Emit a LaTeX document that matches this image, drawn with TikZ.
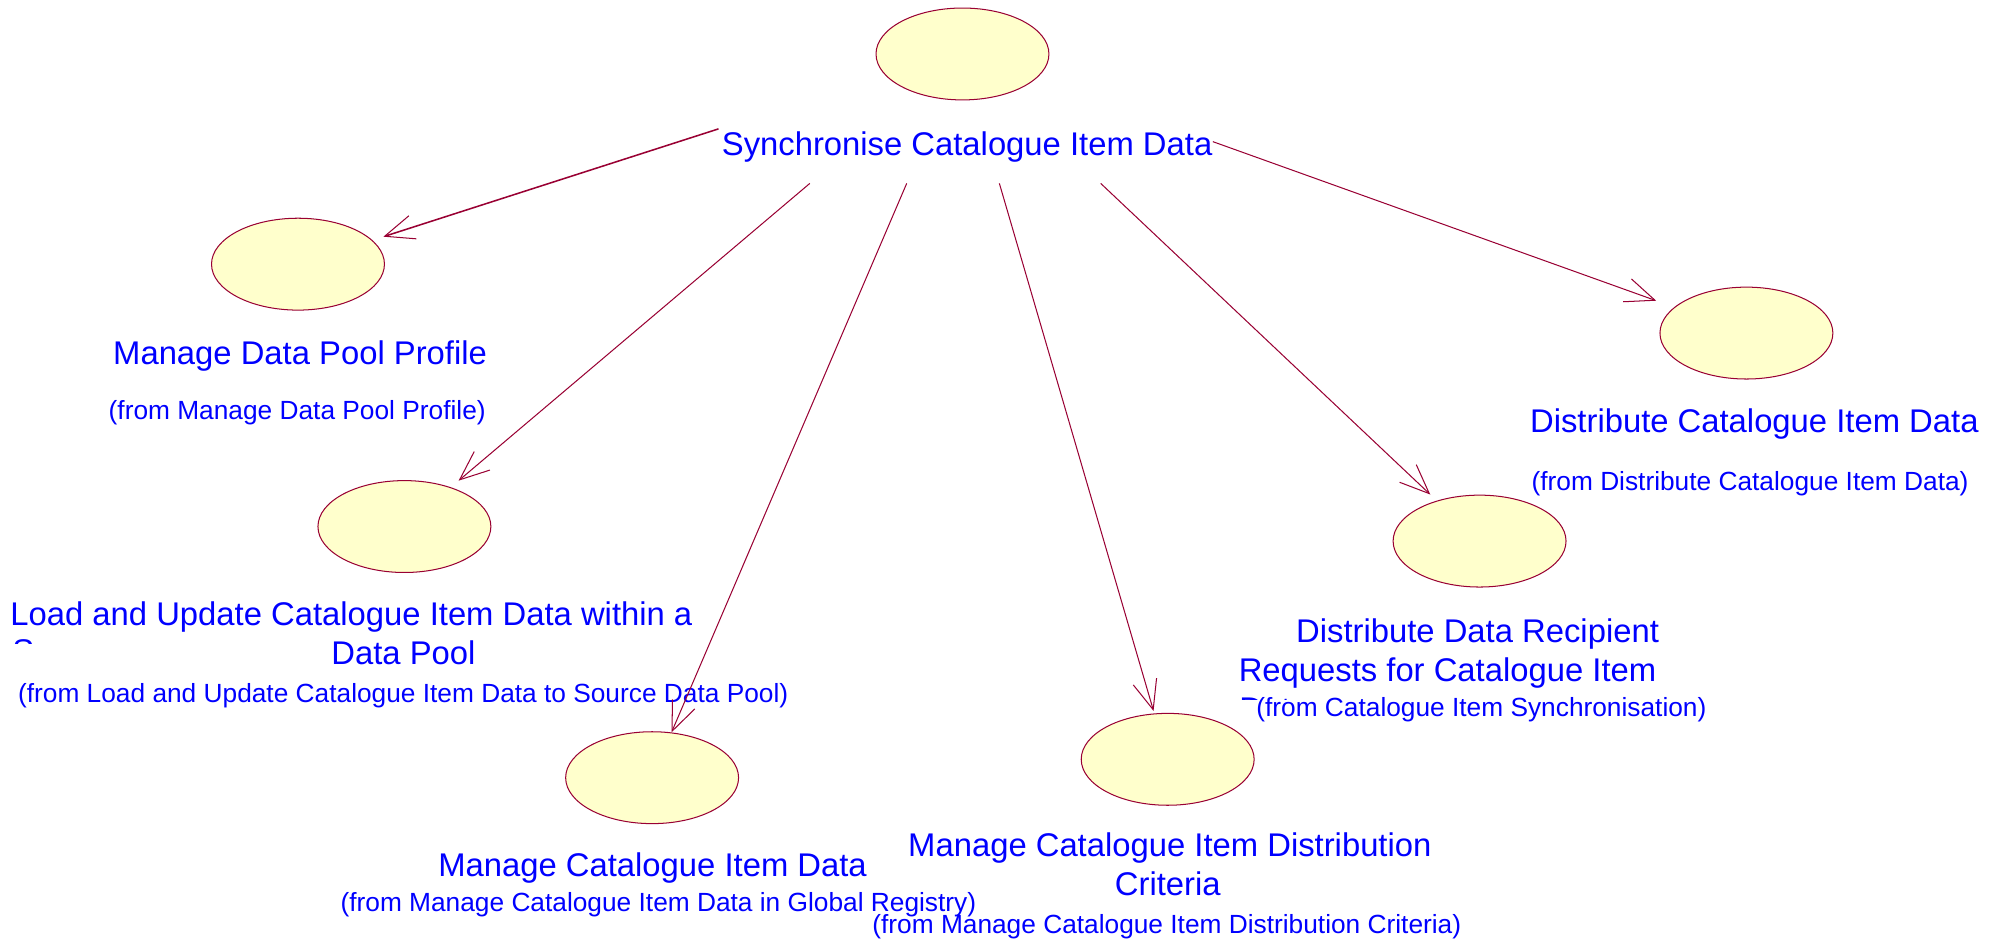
\documentclass[tikz,border=0pt]{standalone}
\usepackage{fontspec}
\setmainfont{Liberation Sans}
\usetikzlibrary{shapes.geometric,arrows.meta}
\definecolor{ucline}{RGB}{153,0,51}
\definecolor{ucfill}{RGB}{255,255,204}
\definecolor{lbl}{RGB}{0,0,255}
\begin{document}
\begin{tikzpicture}[x=1pt,y=-1pt,
  uc/.style={ellipse, draw=ucline, fill=ucfill, line width=0.8pt,
    minimum width=135.5pt, minimum height=72pt, inner sep=0pt},
  big/.style={font=\fontsize{25.7}{30.7}\selectfont, text=lbl, inner sep=0pt, anchor=base west},
  small/.style={font=\fontsize{20.6}{24}\selectfont, text=lbl, inner sep=0pt, anchor=base west},
  assoc/.style={draw=ucline, line width=0.8pt,
    -{Straight Barb[length=23pt,width=19pt,line width=0.8pt]}}]
\fill[white] (0,0) rectangle (1568,738);
\useasboundingbox (0,0) rectangle (1568,738);

% use cases
\node[uc] (ucTop) at (754.2,42.3) {};
\node[uc] (ucPool) at (233.5,207) {};
\node[uc] (ucLoad) at (316.9,412.6) {};
\node[uc] (ucMan) at (511,609.4) {};
\node[uc] (ucCrit) at (915,595) {};
\node[uc] (ucReq) at (1159.4,424) {};
\node[uc] (ucDist) at (1368.5,261) {};

% labels
\node[big] (tTitle) at (565.5,121.5) {Synchronise Catalogue Item Data};

\node[big] (tPool) at (88.5,285.5) {Manage Data Pool Profile};
\node[small] (fPool) at (85,329) {(from Manage Data Pool Profile)};

\node[big] (tLoadA) at (8,489.8) {Load and Update Catalogue Item Data within a};
\begin{scope}
  \clip (0,490) rectangle (200,504.3);
  \node[big] (tLoadS) at (9.5,519) {Source};
\end{scope}
\node[big] (tLoadB) at (259.5,521) {Data Pool};
\node[small] (fLoad) at (14,550.8) {(from Load and Update Catalogue Item Data to Source Data Pool)};

\node[big] (tMan) at (343.3,687) {Manage Catalogue Item Data};
\node[small] (fMan) at (266.7,714) {(from Manage Catalogue Item Data in Global Registry)};

\node[big] (tCritA) at (711.5,671.3) {Manage Catalogue Item Distribution};
\node[big] (tCritB) at (873.5,702) {Criteria};
\node[small] (fCrit) at (683.4,731.4) {(from Manage Catalogue Item Distribution Criteria)};

\node[big] (tReqA) at (1015.5,503.4) {Distribute Data Recipient};
\node[big] (tReqB) at (970.5,534.2) {Requests for Catalogue Item};
\begin{scope}
  \clip (960,540) rectangle (1010,548.5);
  \node[big] (tReqC) at (971,564.9) {Data};
\end{scope}
\node[small] (fReq) at (984.3,561.6) {(from Catalogue Item Synchronisation)};

\node[big] (tDist) at (1198.8,339) {Distribute Catalogue Item Data};
\node[small] (fDist) at (1200,384) {(from Distribute Catalogue Item Data)};

% connector start points
\coordinate (s1) at (563,101);
\coordinate (s2) at (634.6,143.7);
\coordinate (s3) at (710.5,143.7);
\coordinate (s4) at (783.1,143.7);
\coordinate (s5) at (862.5,143.7);
\coordinate (s6) at (950.4,111);

% connectors
\draw[assoc, line width=1.2pt, shorten >=9pt] (s1) -- (ucPool);
\draw[assoc, shorten >=8pt] (s2) -- (ucLoad);
\draw[assoc] (s3) -- (ucMan);
\draw[assoc, shorten >=2pt] (s4) -- (ucCrit);
\draw[assoc, shorten >=7pt] (s5) -- (ucReq);
\draw[assoc, shorten >=15pt] (s6) -- (ucDist);
\end{tikzpicture}
\end{document}
